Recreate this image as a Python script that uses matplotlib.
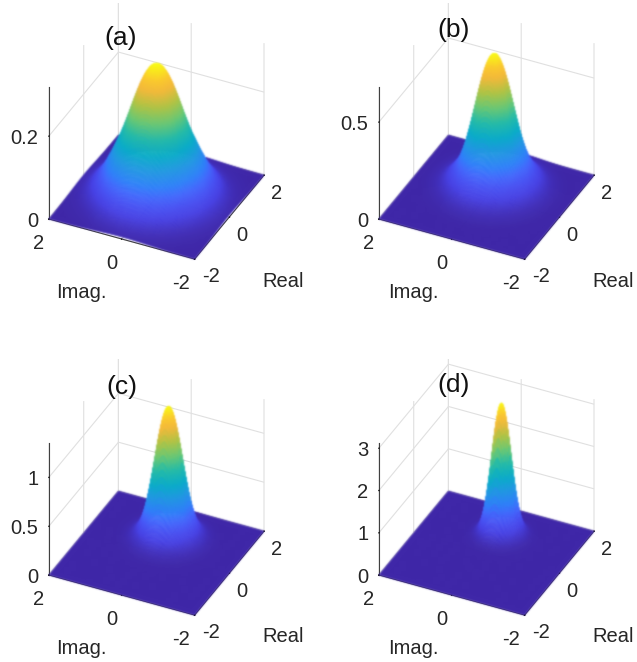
import numpy as np
import matplotlib
matplotlib.use("Agg")
import matplotlib.pyplot as plt
from matplotlib.colors import LinearSegmentedColormap
from mpl_toolkits.mplot3d import proj3d

# ---- values ----
panel_names = ["(a)", "(b)", "(c)", "(d)"]
radii = [0, .1, .2, .3, .4, .5, .6, .7, .8, .9, 1, 1.2, 1.4, 1.6, 1.8, 2, 2.4, 2.9, 4]
height_a = [.320, .317, .307, .292, .272, .248, .222, .195, .169, .145, .125, .085, .052, .028, .012, .005, .0008, .0001, .000001]
height_b = [.690, .675, .633, .568, .488, .401, .316, .240, .178, .130, .098, .050, .020, .008, .002, .0005, .00002, .000001, .000001]
height_c = [1.350, 1.294, 1.139, .921, .684, .467, .295, .175, .099, .055, .030, .008, .001, .0001, .00001, .000001, .000001, .000001, .000001]
height_d = [3.120, 2.861, 2.205, 1.429, .790, .380, .160, .065, .025, .010, .003, .0003, .00002, .000001, .000001, .000001, .000001, .000001, .000001]
peak_real = [0.0, 0.45, 0.7, 0.86]
z_ticks_a = [0, 0.2]
z_ticks_b = [0, 0.5]
z_ticks_c = [0, 0.5, 1]
z_ticks_d = [0, 1, 2, 3]
z_tick_labels_a = ["0", "0.2"]
z_tick_labels_b = ["0", "0.5"]
z_tick_labels_c = ["0", "0.5", "1"]
z_tick_labels_d = ["0", "1", "2", "3"]
xy_ticks = [-2, 0, 2]
z_tops = [0.318, 0.68, 1.35, 3.12]

parula = LinearSegmentedColormap.from_list("parula", [
    (0.00, (.2422, .1504, .6603)), (0.09, (.2783, .2559, .8991)),
    (0.15, (.2810, .3228, .9579)), (0.21, (.2602, .4123, .9952)),
    (0.27, (.1834, .5074, .9798)), (0.36, (.1300, .6000, .8900)),
    (0.45, (.0400, .6800, .7900)), (0.55, (.1500, .7400, .6600)),
    (0.65, (.4300, .7900, .4500)), (0.75, (.7000, .7700, .2700)),
    (0.85, (.9600, .7300, .2300)), (0.92, (.9900, .8000, .1800)),
    (1.00, (.9769, .9839, .0805))])

plt.rcParams["font.family"] = "Liberation Sans"
plt.rcParams["font.size"] = 14.5
plt.rcParams["axes.unicode_minus"] = False
plt.rcParams["grid.color"] = "#e0e0e0"
plt.rcParams["grid.linewidth"] = 0.8

W, H = 637, 662
fig = plt.figure(figsize=(W / 100, H / 100), dpi=100)

dx, dy = 330, 356
origins = [(0, 0), (dx, 0), (0, dy), (dx, dy)]
heights = [height_a, height_b, height_c, height_d]
z_ticks = [z_ticks_a, z_ticks_b, z_ticks_c, z_ticks_d]
z_labels = [z_tick_labels_a, z_tick_labels_b, z_tick_labels_c, z_tick_labels_d]
title_pos = [(121, 38), (454, 30), (122, 387), (454, 385)]

grid = np.linspace(-2, 2, 281)
X, Y = np.meshgrid(grid, grid)


def soft_focus(img, dpi, sigma=0.6, pad=3):
    """Blur what a surface rendered: the reference is a soft, resampled image."""
    k = np.exp(-0.5 * (np.arange(-pad, pad + 1) / sigma) ** 2)
    k /= k.sum()
    p = np.pad(img, ((pad, pad), (pad, pad), (0, 0)))
    a = p[..., 3:4]
    pm = np.concatenate([p[..., :3] * a, a], axis=2)
    for ax_i in (0, 1):
        pm = np.apply_along_axis(lambda v: np.convolve(v, k, mode="same"), ax_i, pm)
    alpha = pm[..., 3:4]
    rgb = pm[..., :3] / np.maximum(alpha, 1e-4)
    return np.clip(np.concatenate([rgb, alpha], axis=2), 0, 1), -pad, -pad


def to_px(ax, pt):
    x, y, _ = proj3d.proj_transform(pt[0], pt[1], pt[2], ax.get_proj())
    return ax.transData.transform((x, y))


def place(ax, ztop, left_t, right_t, zh_t):
    pts = [(-2, 2, 0), (2, -2, 0), (-2, 2, ztop)]
    ax.set_box_aspect((1, 1, 1))
    ax.apply_aspect()
    l, r, t = [to_px(ax, p) for p in pts]
    h = (zh_t / (right_t[0] - left_t[0])) / ((t[1] - l[1]) / (r[0] - l[0]))
    ax.set_box_aspect((1, 1, h))
    l, r, t = [to_px(ax, p) for p in pts]
    pos = ax.get_position()
    S = pos.width * W * (right_t[0] - left_t[0]) / (r[0] - l[0])
    ax.set_position([pos.x0, pos.y0, S / W, S / H])
    ax.apply_aspect()
    l, r, t = [to_px(ax, p) for p in pts]
    pos = ax.get_position()
    ax.set_position([pos.x0 + (left_t[0] - l[0]) / W,
                     pos.y0 + ((H - left_t[1]) - l[1]) / H, pos.width, pos.height])
    ax.apply_aspect()


for i in range(4):
    ox, oy = origins[i]
    ax = fig.add_axes([0.1, 0.1, 400 / W, 400 / H], projection="3d")
    ax.patch.set_alpha(0)
    ax.set_proj_type("ortho")
    ax.view_init(elev=35.2, azim=205.5)
    ax.set_xlim(-2, 2)
    ax.set_ylim(-2, 2)
    ax.set_zlim(0, z_tops[i])
    place(ax, z_tops[i], (49 + ox, 219 + oy), (264 + ox, 174 + oy), 132)

    R2 = (X - peak_real[i]) ** 2 + Y ** 2
    Z = np.exp(np.interp(R2, np.array(radii) ** 2, np.log(heights[i])))
    colors = parula(Z / max(heights[i]))
    surf = ax.plot_surface(X, Y, Z, facecolors=colors, rcount=280, ccount=280,
                           shade=False, linewidth=0.4, antialiased=True)
    surf.set_edgecolor(surf._facecolor3d)
    surf.set_agg_filter(soft_focus)

    ax.set_xticks(xy_ticks)
    ax.set_yticks(xy_ticks)
    ax.set_zticks(z_ticks[i])
    ax.set_zticklabels(z_labels[i])
    ax.tick_params(axis="x", pad=-3, labelcolor="#262626")
    ax.tick_params(axis="y", pad=-1, labelcolor="#262626")
    ax.tick_params(axis="z", pad=-3, labelcolor="#262626")
    for lab in ax.get_xticklabels():
        lab.set_ha("left")
    for lab in ax.get_yticklabels():
        lab.set_ha("right")
    for lab in ax.get_zticklabels():
        lab.set_ha("right")
        lab.set_va("center")
    for axis in (ax.xaxis, ax.yaxis, ax.zaxis):
        axis.set_pane_color((1, 1, 1, 0))
        axis.pane.set_edgecolor((1, 1, 1, 0))
        axis.line.set_color("#404040")
        axis.line.set_linewidth(0.8)
        axis._axinfo["tick"].update({"inward_factor": 0.03, "outward_factor": 0.0,
                                     "color": "#404040"})
    ax.zaxis.set_ticks_position("upper")

    fig.text((81 + ox + (2 if ox else 0)) / W, 1 - (292 + oy) / H, "Imag.", ha="center", va="center", color="#262626")
    fig.text((283 + ox) / W, 1 - (281 + oy) / H, "Real", ha="center", va="center", color="#262626")
    fig.text(title_pos[i][0] / W, 1 - title_pos[i][1] / H, panel_names[i],
             ha="center", va="center", fontsize=19, color="#111111")

fig.savefig("out.png", dpi=100, facecolor="white")
